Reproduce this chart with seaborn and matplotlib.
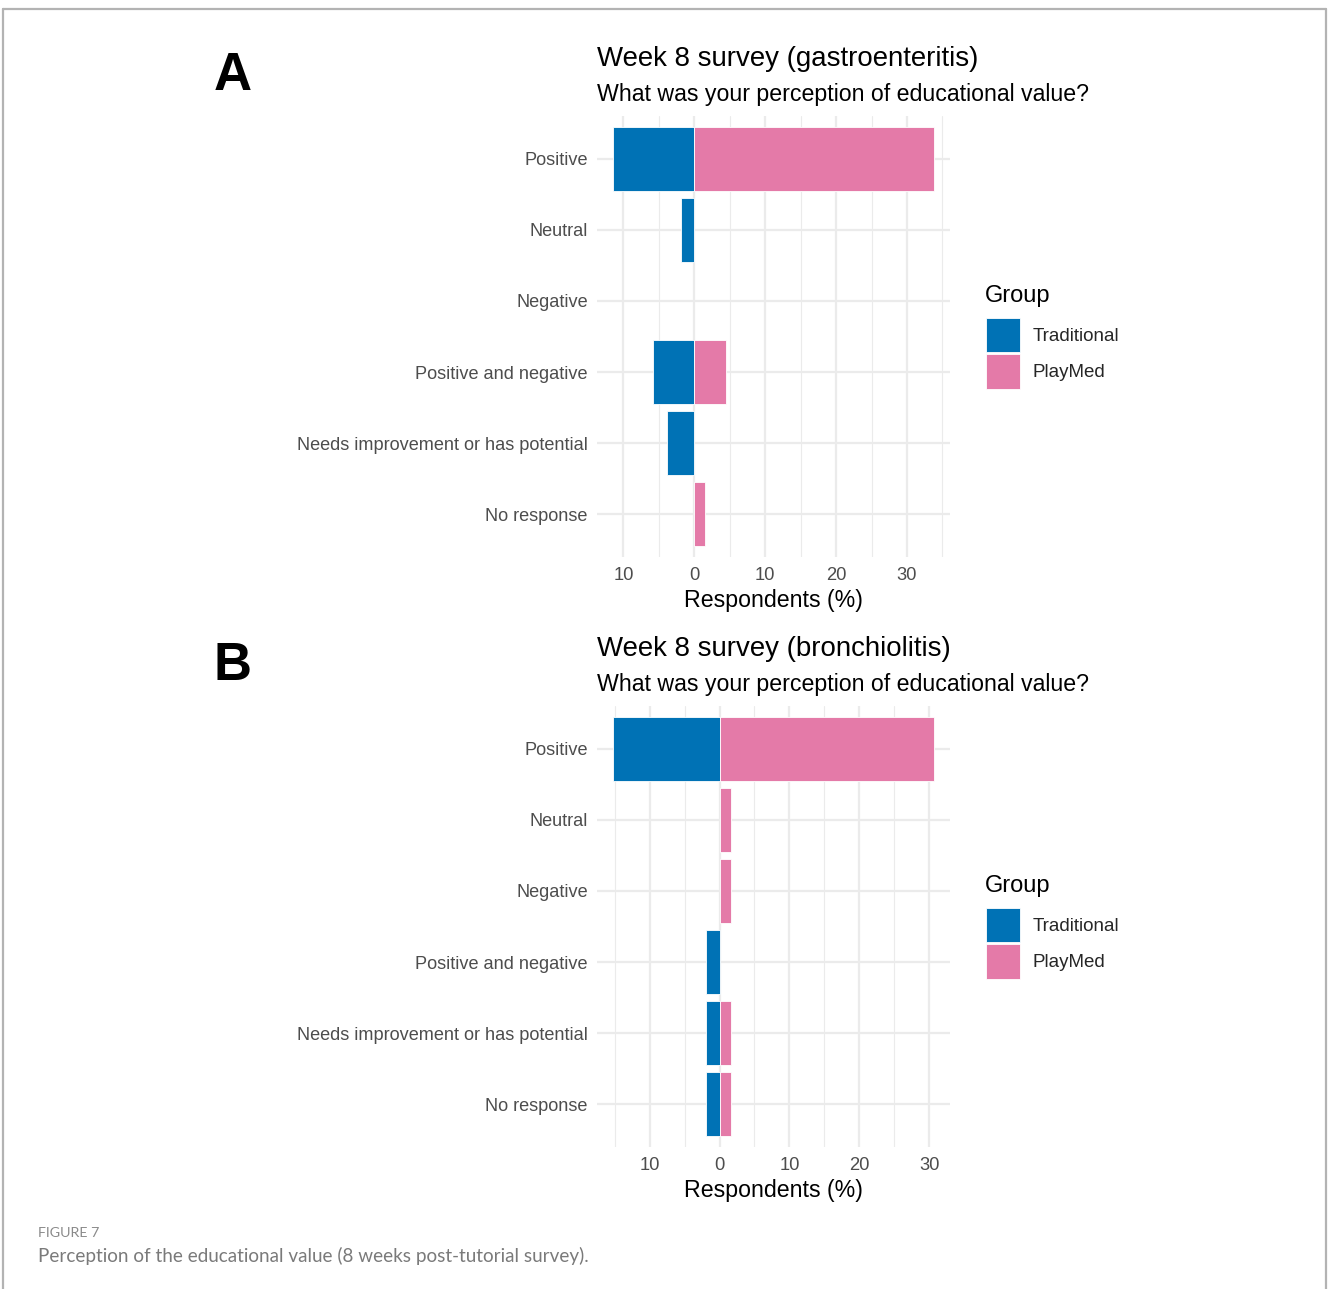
import numpy as np
import pandas as pd
import matplotlib
matplotlib.use("Agg")
import matplotlib.pyplot as plt
from matplotlib.lines import Line2D
import seaborn as sns

# ---------------- data ----------------
categories = ["Positive", "Neutral", "Negative", "Positive and negative",
              "Needs improvement or has potential", "No response"]
groups = ["Traditional", "PlayMed"]

gastro_traditional = [11.5, 1.9, 0.0, 5.8, 3.9, 0.0]
gastro_playmed = [33.8, 0.0, 0.0, 4.5, 0.0, 1.5]

bronch_traditional = [15.3, 0.0, 0.0, 1.9, 1.9, 1.9]
bronch_playmed = [30.7, 1.6, 1.6, 0.0, 1.6, 1.6]

panel_letters = ["A", "B"]
panel_titles = ["Week 8 survey (gastroenteritis)", "Week 8 survey (bronchiolitis)"]
subtitle = "What was your perception of educational value?"
x_label = "Respondents (%)"
legend_title = "Group"
caption_label = "FIGURE 7"
caption_text = "Perception of the educational value (8 weeks post-tutorial survey)."

palette = {"Traditional": "#0072B5", "PlayMed": "#E47AA8"}


def make_df(trad, play):
    rows = []
    for c, t, p in zip(categories, trad, play):
        if t > 0:
            rows.append({"Response": c, "Group": "Traditional", "value": -t})
        if p > 0:
            rows.append({"Response": c, "Group": "PlayMed", "value": p})
    return pd.DataFrame(rows)


datasets = [make_df(gastro_traditional, gastro_playmed),
            make_df(bronch_traditional, bronch_playmed)]

# ---------------- styling ----------------
sns.set_theme(style="white")
plt.rcParams["font.family"] = ["Liberation Sans", "DejaVu Sans"]

W, H = 1328, 1289
fig = plt.figure(figsize=(W / 100, H / 100), dpi=100)
fig.patch.set_facecolor("white")

# outer frame lines (top, left, right)
frame_c = "#b3b3b3"
fig.add_artist(Line2D([3.5 / W, 1326 / W], [1 - 8.5 / H, 1 - 8.5 / H],
                      transform=fig.transFigure, color=frame_c, lw=1.6))
fig.add_artist(Line2D([3.5 / W, 3.5 / W], [0, 1 - 8.5 / H],
                      transform=fig.transFigure, color=frame_c, lw=1.6))
fig.add_artist(Line2D([1326 / W, 1326 / W], [0, 1 - 8.5 / H],
                      transform=fig.transFigure, color=frame_c, lw=1.6))

ax_left = 596.7 / W
ax_w = (950 - 596.7) / W
panel_tops = [116, 706]
panel_h = 441

grid_c = "#ebebeb"
tick_c = "#4d4d4d"

handles, labels = None, None
for i, df in enumerate(datasets):
    top = panel_tops[i]
    ax = fig.add_axes([ax_left, 1 - (top + panel_h) / H, ax_w, panel_h / H])
    sns.barplot(data=df, y="Response", x="value", hue="Group",
                order=categories, hue_order=groups, palette=palette,
                orient="h", dodge=False, width=0.9, errorbar=None,
                saturation=1, edgecolor="white", linewidth=0.6, ax=ax,
                zorder=3, legend=(i == 0))

    lo = df["value"].min()
    hi = df["value"].max()
    pad = 0.05 * (hi - lo)
    ax.set_xlim(lo - pad, hi + pad)
    ax.set_ylim(len(categories) - 1 + 0.6, -0.6)

    major = [t for t in np.arange(-40, 41, 10) if lo - pad <= t <= hi + pad]
    minor = [t for t in np.arange(-45, 46, 10) if lo - pad <= t <= hi + pad]
    ax.set_xticks(major)
    ax.set_xticklabels([f"{abs(int(t))}" for t in major])
    ax.set_xticks(minor, minor=True)

    ax.set_axisbelow(True)
    ax.grid(False)
    for t in major:
        ax.axvline(t, color=grid_c, lw=1.6, zorder=0)
    for t in minor:
        ax.axvline(t, color=grid_c, lw=0.8, zorder=0)
    for k in range(len(categories)):
        ax.axhline(k, color=grid_c, lw=1.6, zorder=0)

    for s in ax.spines.values():
        s.set_visible(False)
    ax.tick_params(axis="both", which="both", length=0)
    ax.tick_params(axis="y", pad=6.5, labelsize=13.1, labelcolor=tick_c)
    ax.tick_params(axis="x", pad=7, labelsize=13.2, labelcolor=tick_c)
    ax.set_ylabel("")
    ax.set_xlabel(x_label, fontsize=16.7, color="black", labelpad=4)

    # titles
    fig.text(597 / W, 1 - (top - 57) / H, panel_titles[i], fontsize=19.9,
             color="black", ha="left", va="center")
    fig.text(597 / W, 1 - (top - 21) / H, subtitle, fontsize=16.7,
             color="black", ha="left", va="center")
    fig.text(233 / W, 1 - (top - 40) / H, panel_letters[i], fontsize=38,
             fontweight="bold", color="black", ha="center", va="center")

    # legend
    if i == 0:
        handles, labels = ax.get_legend_handles_labels()
        ax.get_legend().remove()
    fig.text(985 / W, 1 - (top + 180) / H, legend_title, fontsize=17,
             color="black", ha="left", va="center")
    fig.legend(handles, labels,
               loc="upper left",
               bbox_to_anchor=(986 / W, 1 - (top + 202) / H),
               frameon=False, fontsize=13.5,
               handlelength=1.8, handleheight=2.45,
               handletextpad=0.68, labelspacing=0.1,
               borderpad=0, borderaxespad=0)

# caption
fig.text(38 / W, 1 - 1233 / H, caption_label, fontsize=10.3, color="#8a8a8a",
         ha="left", va="center", family=["Lato", "DejaVu Sans"])
fig.text(38 / W, 1 - 1256 / H, caption_text, fontsize=13.6, color="#7a7a7a",
         ha="left", va="center", family=["Lato", "DejaVu Sans"])

fig.savefig("out.png", dpi=100, facecolor="white")
